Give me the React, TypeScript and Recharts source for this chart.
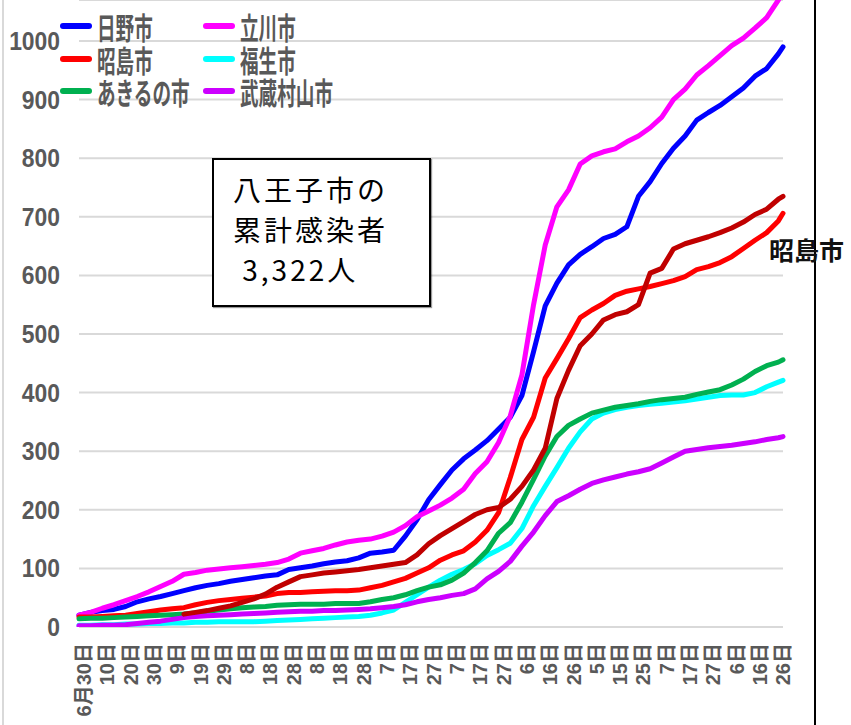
import React from 'react';
import { LineChart, Line, XAxis, YAxis, CartesianGrid } from 'recharts';

// day index from 2020-06-30 (day 0)
const days = [0,5,10,15,20,25,30,35,40,45,50,55,60,65,70,75,80,85,90,95,100,105,110,115,120,125,130,135,140,145,150,155,160,165,170,175,180,185,190,195,200,205,210,215,220,225,230,235,240,245,250,255,260,265,270,275,280,285,290,295,300,302];

const hino = [20,25,28,30,35,43,48,52,57,62,67,71,74,78,81,84,87,89,98,101,104,108,111,113,118,126,128,131,155,183,217,243,268,287,302,318,338,358,395,470,548,587,618,636,649,663,670,683,735,760,791,817,838,865,878,890,905,920,940,953,978,990];
const tachikawa = [20,25,32,38,45,52,60,69,78,90,93,97,99,101,103,105,107,110,116,126,130,134,140,145,148,150,155,162,173,188,198,208,220,235,262,282,315,360,430,550,652,717,746,790,804,811,816,828,838,852,870,900,918,942,958,975,992,1005,1022,1040,1070,1085];
const akishima = [17,17,18,19,20,23,26,29,31,33,38,42,45,47,49,51,53,57,59,59,60,61,62,62,63,67,71,77,83,92,101,114,123,130,145,165,195,255,320,358,425,458,492,528,541,552,566,573,577,581,586,591,598,610,615,622,632,646,660,673,693,706];
const fussa = [3,3,4,4,5,5,6,6,7,7,8,8,9,9,9,9,10,11,12,13,14,15,16,17,18,20,24,29,42,55,68,80,90,98,108,122,132,143,168,207,240,272,305,333,355,365,371,375,378,380,382,384,386,389,392,395,396,396,400,410,418,421];
const akiruno = [14,15,15,16,17,18,19,20,21,22,24,27,29,31,33,34,35,37,38,39,39,39,40,40,40,43,47,50,55,62,68,72,80,92,110,130,160,178,213,252,292,325,344,355,365,370,375,378,381,385,388,390,392,397,401,405,413,423,436,446,452,456];
const musashimurayama = [2,2,3,3,4,6,8,10,13,16,18,19,20,21,22,23,24,25,26,27,27,28,28,29,30,31,33,35,38,43,47,50,54,57,65,82,95,112,138,162,190,214,224,235,245,251,256,261,265,270,280,290,300,303,306,308,310,313,316,320,323,325];
const darkRed = [null,null,null,null,null,null,null,null,null,22,25,28,32,36,42,48,56,68,77,86,89,92,94,96,98,101,104,107,110,123,142,156,168,180,192,200,204,218,240,268,305,390,438,480,500,524,533,538,550,604,612,645,654,660,666,673,681,691,704,713,730,735];

const xTickDays = [0,10,20,30,40,50,60,70,80,90,100,110,120,130,140,150,160,170,180,190,200,210,220,230,240,250,260,270,280,290,300];
const xTickLabels = ['6月30日','10日','20日','30日','9日','19日','29日','8日','18日','28日','8日','18日','28日','7日','17日','27日','7日','17日','27日','6日','16日','26日','5日','15日','25日','7日','17日','27日','6日','16日','26日'];
const yTicks = [0,100,200,300,400,500,600,700,800,900,1000];

const seriesNames = ['日野市','立川市','昭島市','福生市','あきるの市','武蔵村山市'];
const seriesColors = ['#0000FF','#FF00FF','#FF0000','#00FFFF','#00B050','#CC00FF'];
const darkRedColor = '#C00000';

const boxLines = ['八王子市の','累計感染者',' 3,322人'];
const sideLabel = '昭島市';

const data = days.map((d, i) => ({
  d,
  hino: hino[i],
  tachikawa: tachikawa[i],
  akishima: akishima[i],
  fussa: fussa[i],
  akiruno: akiruno[i],
  musashimurayama: musashimurayama[i],
  darkRed: darkRed[i],
}));
const keys = ['hino','tachikawa','akishima','fussa','akiruno','musashimurayama'];

const XTick = (props: any) => {
  const { x, y, payload } = props;
  const idx = xTickDays.indexOf(payload.value);
  const label = idx >= 0 ? xTickLabels[idx] : '';
  return (
    <text
      transform={`translate(${x + 5},${y + 8}) rotate(-90)`}
      textAnchor="end"
      dominantBaseline="central"
      fill="#595959"
      fontSize={20}
      fontWeight="bold"
      fontFamily="'Liberation Sans','Noto Sans CJK JP',sans-serif"
    >
      {label}
    </text>
  );
};

const YTick = (props: any) => {
  const { y, payload } = props;
  return (
    <text
      transform={`translate(60,${y}) scale(0.88,1)`}
      x={0}
      y={0}
      textAnchor="end"
      dominantBaseline="central"
      fill="#595959"
      fontSize={26}
      fontWeight="bold"
      fontFamily="'Liberation Sans',sans-serif"
    >
      {payload.value}
    </text>
  );
};

export default function App() {
  const legendRows = [[0, 1], [2, 3], [4, 5]];
  return (
    <div style={{ position: 'absolute', left: 0, top: 0, width: 851, height: 725, background: '#fff', overflow: 'hidden' }}>
      <LineChart width={851} height={725} data={data} margin={{ top: 0, right: 68, bottom: 0, left: 0 }}>
        <CartesianGrid horizontal vertical={false} stroke="#d9d9d9" strokeWidth={2} />
        <XAxis
          dataKey="d"
          type="number"
          domain={[0, 302]}
          ticks={xTickDays}
          interval={0}
          axisLine={false}
          tickLine={false}
          height={98}
          tick={<XTick />}
        />
        <YAxis
          type="number"
          domain={[0, 1070]}
          allowDataOverflow
          ticks={yTicks}
          axisLine={false}
          tickLine={false}
          width={79}
          tick={<YTick />}
        />
        {keys.map((k, i) => (
          <Line
            key={k}
            dataKey={k}
            stroke={seriesColors[i]}
            strokeWidth={5}
            dot={false}
            isAnimationActive={false}
            strokeLinecap="round"
            strokeLinejoin="round"
            type="linear"
          />
        ))}
        <Line
          dataKey="darkRed"
          stroke={darkRedColor}
          strokeWidth={5}
          dot={false}
          isAnimationActive={false}
          strokeLinecap="round"
          strokeLinejoin="round"
          type="linear"
        />
      </LineChart>

      {/* frame lines */}
      <div style={{ position: 'absolute', left: 2, top: 0, width: 2, height: 725, background: '#d9d9d9' }} />
      <div style={{ position: 'absolute', left: 814, top: 0, width: 2, height: 725, background: '#000' }} />

      {/* legend */}
      {legendRows.map((row, r) => (
        <React.Fragment key={r}>
          {row.map((si, c) => (
            <div key={si} style={{ position: 'absolute', left: c === 0 ? 60 : 203, top: 26 + r * 32.5 - 15, height: 30, display: 'flex', alignItems: 'center' }}>
              <div style={{ width: 32, height: 6, borderRadius: 3, background: seriesColors[si], flexShrink: 0 }} />
              <div style={{
                marginLeft: 5,
                fontSize: 30,
                fontWeight: 'bold',
                color: '#595959',
                fontFamily: "'Noto Sans CJK JP',sans-serif",
                transform: 'scaleX(0.62)',
                transformOrigin: 'left center',
                whiteSpace: 'nowrap',
                lineHeight: '30px',
              }}>{seriesNames[si]}</div>
            </div>
          ))}
        </React.Fragment>
      ))}

      {/* annotation box */}
      <div style={{
        position: 'absolute', left: 212, top: 158, width: 215, height: 145,
        border: '2px solid #000', background: '#fff',
        fontFamily: "'Noto Sans CJK JP',sans-serif", fontSize: 28, color: '#000',
        boxShadow: '1px 1px 1px rgba(0,0,0,0.4)',
      }}>
        {boxLines.map((t, i) => (
          <div key={i} style={{ position: 'absolute', left: 19, top: 11 + i * 40, lineHeight: '36px', whiteSpace: 'pre', letterSpacing: 3 }}>{t}</div>
        ))}
      </div>

      {/* side label */}
      <div style={{
        position: 'absolute', left: 769, top: 233, fontSize: 25, fontWeight: 'bold', color: '#111',
        fontFamily: "'Noto Sans CJK JP',sans-serif", lineHeight: '32px', whiteSpace: 'nowrap',
      }}>{sideLabel}</div>
    </div>
  );
}
